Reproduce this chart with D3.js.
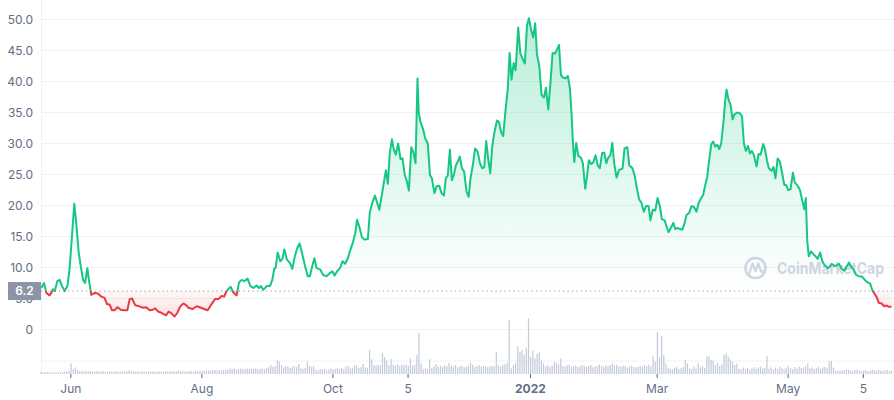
<!DOCTYPE html>
<html><head><meta charset="utf-8">
<script src="https://cdn.jsdelivr.net/npm/d3@7"></script>
<style>body{margin:0;background:#fff;} svg{display:block;font-family:Inter,"Noto Sans",sans-serif;}</style>
</head><body><svg id="c" width="894" height="400"></svg>
<script>
// ---- data ----
const startDate = Date.UTC(2021, 4, 18, 8);   // first point
const endDate = Date.UTC(2022, 5, 19, 1);
const baselinePrice = 6.2;
// [days since start, price]
const priceReadings = [
[0.2,6.7],[1.4,7.5],[2.5,5.9],[4.0,5.5],[4.8,5.9],[5.6,6.5],[6.4,6.2],[7.6,7.8],[8.7,8.0],[9.8,7.0],[11.0,6.2],[12.3,7.0],[13.3,9.7],[14.4,15.0],[15.5,20.3],[16.4,17.2],[17.5,12.6],[18.5,10.2],[19.6,8.0],[20.5,7.5],[21.6,9.9],[22.3,8.0],[23.4,5.6],[25.0,5.9],[26.5,5.8],[28.1,5.3],[29.6,5.1],[30.7,4.1],[32.0,4.0],[33.1,3.1],[34.3,3.1],[35.5,3.6],[37.1,3.2],[38.6,3.1],[40.2,3.1],[41.3,4.9],[42.4,5.0],[43.9,3.9],[45.2,3.8],[46.7,3.6],[48.0,3.5],[49.0,3.6],[50.6,3.1],[52.1,3.2],[53.2,3.4],[54.5,2.9],[56.0,2.7],[57.6,2.4],[58.3,2.3],[59.4,2.9],[60.7,2.6],[62.2,2.1],[63.5,2.7],[65.0,3.8],[66.4,4.2],[67.7,3.9],
[68.6,3.5],[70.5,3.3],[72.5,3.75],[74.5,3.5],[76.0,3.3],[77.6,3.1],[79.1,3.9],[81.0,4.9],[82.6,4.9],[84.1,5.4],[85.3,5.3],[86.4,6.2],[88.3,6.9],[89.5,6.0],[91.1,5.5],[92.2,7.6],[93.4,8.0],[94.7,7.8],[96.2,8.2],[97.5,7.0],[98.9,6.7],[100.4,7.1],[101.5,6.7],[102.4,7.0],[103.5,6.4],[105.1,7.0],[106.6,7.0],[107.7,8.0],[108.6,9.8],[109.2,9.9],[110.2,12.4],[111.4,11.0],[112.4,11.4],[113.3,12.9],[114.5,11.3],[115.9,10.7],[117.0,9.8],[118.2,11.8],[119.3,13.1],[120.4,13.9],[121.7,12.1],[122.9,10.3],[124.2,8.6],[125.2,8.6],[126.3,10.2],[127.3,11.5],[128.3,9.9],[129.9,9.7],[131.4,8.8],[133.0,8.6],
[134.5,9.1],[135.7,9.4],[136.7,8.7],[137.9,9.4],[139.2,9.9],[140.4,11.0],[141.6,10.6],[142.9,11.5],[143.8,12.6],[145.1,13.9],[146.3,15.5],[147.2,17.7],[148.2,16.6],[149.4,14.9],[150.6,14.5],[152.2,14.6],[153.1,18.9],[154.4,20.6],[155.5,21.6],[156.5,20.5],[157.5,19.3],[158.7,21.7],[159.6,23.6],[160.6,25.7],[161.5,23.5],[162.4,28.4],[163.4,30.7],[164.3,29.0],[165.2,28.2],[166.3,30.0],[167.4,27.5],[168.3,27.6],[169.4,24.9],[170.2,24.1],[171.3,22.4],[172.4,29.4],[173.3,28.7],[174.4,26.8],[175.3,40.5],[175.9,34.9],[176.7,33.5],[178.0,32.2],[178.9,30.8],[180.1,30.0],[181.1,24.9],[182.0,24.4],[183.2,22.0],[184.2,23.1],[185.4,23.2],[186.5,22.0],[187.6,21.6],[188.5,24.4],[189.4,24.8],[190.4,29.0],[191.3,24.1],[192.2,24.9],[193.2,26.5],[194.1,27.1],[195.0,27.9],[196.0,26.0],[197.0,25.5],[198.1,22.3],[199.1,21.4],[200.0,24.4],[201.2,26.8],
[202.1,29.2],[203.3,28.7],[204.4,26.8],[205.5,26.0],[206.4,26.2],[207.3,30.4],[208.3,27.3],[209.2,25.2],[210.1,29.5],[211.0,31.6],[212.3,33.7],[213.2,33.5],[214.2,31.9],[215.2,31.2],[216.3,35.4],[217.3,38.6],[218.2,44.6],[219.1,40.3],[220.1,43.0],[221.0,41.8],[222.2,48.7],[223.2,44.5],[224.2,43.7],[225.3,42.9],[226.3,49.1],[227.2,50.2],[228.1,48.5],[229.2,47.1],[230.1,49.4],[230.9,44.5],[232.0,42.5],[233.1,37.8],[234.2,37.4],[235.1,39.0],[236.2,35.5],[237.3,40.2],[238.2,44.6],[239.3,44.5],[240.2,45.1],[241.2,45.9],[242.1,41.0],[243.2,40.6],[244.3,40.5],[245.3,40.9],[246.3,38.9],[247.1,34.3],[247.7,30.0],[248.3,27.0],[249.2,30.1],[250.2,28.0],[251.4,27.7],[252.3,26.8],[253.4,22.7],[254.2,24.6],[255.1,27.3],[256.1,26.7],[257.1,26.9],[258.2,28.1],[259.2,26.5],[260.2,26.0],[261.3,28.5],[262.3,28.5],[263.2,26.8],[264.1,27.7],[265.1,28.1],[266.0,30.1],[266.9,26.8],[268.0,24.5],[269.1,25.7],
[270.8,26.0],[271.7,29.2],[273.0,29.4],[273.9,26.5],[275.4,26.0],[276.5,24.7],[277.6,22.5],[278.5,21.0],[279.6,20.4],[280.7,19.0],[281.7,19.9],[282.9,19.9],[283.8,17.6],[284.8,19.3],[286.0,19.2],[287.1,21.2],[288.2,19.8],[289.1,17.8],[290.4,17.6],[291.3,16.6],[292.2,15.7],[293.3,16.4],[294.4,17.2],[295.3,16.2],[296.4,16.4],[297.5,16.2],[298.6,16.1],[299.7,17.2],[300.6,18.5],[301.8,18.8],[302.9,19.9],[304.0,19.8],[305.2,19.0],[306.2,20.4],[307.4,21.2],[308.3,21.7],[309.3,23.3],[310.2,24.6],[311.1,27.3],[312.1,29.9],[313.0,30.3],[313.9,29.5],[314.9,29.8],[315.8,29.1],[316.7,30.0],[317.7,33.2],[318.6,37.0],[319.2,38.7],[320.1,37.1],[321.1,36.2],[322.0,33.9],[322.9,34.7],[324.2,35.0],[325.4,34.9],[326.4,34.4],[327.3,30.0],[328.2,28.8],[329.2,29.6],[330.1,28.4],[331.0,28.8],[331.9,28.2],[333.2,26.3],[334.1,28.3],[335.0,28.2],[336.3,29.9],
[337.1,29.1],[338.0,27.3],[338.9,26.0],[340.2,25.6],[341.1,26.2],[342.0,24.4],[343.0,27.6],[344.0,27.1],[345.1,25.2],[346.1,23.3],[347.0,23.3],[347.9,22.5],[349.0,22.6],[350.1,25.3],[351.0,23.7],[352.3,23.2],[353.4,22.5],[354.4,20.9],[355.4,19.4],[356.1,21.2],[356.8,14.2],[357.5,11.8],[358.5,12.6],[359.7,12.1],[360.7,11.8],[361.6,11.4],[362.8,12.4],[363.8,11.0],[365.0,10.3],[366.2,9.9],[367.2,10.1],[368.1,10.6],[369.3,10.3],[370.4,10.3],[371.5,10.6],[372.8,9.8],[374.0,9.5],[375.1,10.1],[376.2,10.8],[377.1,10.2],[378.3,9.7],[379.6,8.8],[380.8,8.6],[382.4,8.5],[383.6,8.0],[384.9,7.6],[386.1,7.4],[387.0,6.4],[388.0,5.8],[389.0,5.3],[390.1,4.3],[391.4,4.2],[392.6,3.75],[393.7,3.86],[394.8,3.65],[396.0,3.65]
];
// daily volume, one bar per day from start (arbitrary units)
const dailyVolume = [
1.5,1.2,1.4,1.3,1.6,1.2,1.4,1.5,1.3,1.2,1.6,1.4,1.8,
2.3,8.2,3.6,5.1,3.1,
2.3,2.2,2.0,2.3,2.1,2.2,1.9,2.0,2.2,1.8,2.0,2.1,1.8,1.9,2.0,1.8,1.7,1.9,2.0,1.8,1.9,1.7,2.0,
3.1,2.2,1.8,1.9,2.0,1.7,1.8,1.9,1.7,1.8,2.0,1.9,1.6,1.8,1.9,1.7,2.0,2.1,1.8,1.9,2.0,2.2,2.0,
3.1,2.0,2.1,1.9,2.0,2.2,2.1,2.0,2.3,2.2,
2.4,2.6,2.3,2.5,2.8,2.6,2.9,3.1,2.7,3.0,2.8,3.1,2.9,3.3,
4.2,3.8,4.4,3.6,3.9,4.3,3.7,4.0,4.4,3.8,4.1,3.9,4.3,3.6,4.0,4.2,3.8,4.5,
5.2,6.9,5.5,6.0,10.8,9.5,6.9,5.0,5.8,6.2,4.6,5.5,6.0,5.2,7.7,4.4,4.0,4.6,9.5,6.2,5.5,6.0,
3.2,2.6,3.8,3.5,4.0,2.8,3.6,4.2,3.4,3.9,4.4,
4.0,4.8,3.8,5.6,6.2,4.4,5.0,6.9,6.5,4.6,5.3,7.7,5.0,4.8,
18.5,11.3,6.9,6.5,7.2,6.6,15.9,12.8,10.3,6.8,11.5,
7.0,6.4,7.7,6.2,7.3,6.6,7.5,6.3,
12.0,6.2,7.0,14.6,31.5,8.2,3.6,4.4,4.0,11.3,4.6,6.0,7.7,5.5,
6.2,5.4,6.8,5.8,8.7,6.5,5.6,6.9,5.2,5.8,6.3,5.1,5.5,6.6,8.7,7.2,5.4,6.0,6.8,5.6,5.9,6.4,5.3,6.0,
6.2,5.8,16.9,6.5,5.6,6.8,7.7,8.7,41.5,4.4,6.9,8.5,21.5,16.9,18.5,14.6,20.0,42.8,13.0,18.0,12.0,15.4,17.2,10.3,8.2,
5.8,6.9,5.4,6.4,9.5,8.7,7.7,12.0,
6.2,5.6,6.8,7.2,5.4,6.0,6.6,5.2,5.8,7.0,6.4,5.5,6.1,6.9,5.3,5.7,6.3,7.4,6.0,5.5,6.7,6.2,7.0,8.2,6.8,7.1,6.0,5.6,6.4,5.9,5.2,5.8,6.6,5.4,5.1,5.7,6.2,5.5,6.9,6.1,7.2,5.8,
13.8,9.5,32.3,13.0,29.2,14.6,8.2,
5.0,4.2,3.6,4.8,5.6,3.9,4.5,5.2,10.8,8.2,4.4,3.8,5.6,4.2,8.7,5.0,6.2,4.6,
13.3,13.8,11.0,10.3,6.8,8.7,6.2,7.5,14.6,15.9,13.3,11.3,9.5,6.9,8.2,
4.2,3.5,5.0,3.8,4.6,3.2,4.4,5.3,3.9,4.8,5.6,4.1,4.7,13.8,
4.0,5.2,3.4,4.8,3.6,5.5,4.4,3.8,5.0,6.2,4.6,3.9,5.4,4.2,5.8,4.6,5.1,6.0,8.2,
4.4,5.0,3.8,4.6,5.6,4.0,4.9,5.3,4.4,10.0,10.0,5.0,
2.5,2.2,2.8,2.4,3.0,3.4,3.2,2.6,2.4,2.9,3.3,2.7,2.2,2.6,3.0,2.4,2.1,3.2,2.8,2.5,3.4,2.6,2.3,2.9,3.1,2.4,2.6
];
const priceTicks = [0,5,10,15,20,25,30,35,40,45,50];
const xTickDates = ["2021-06-01","2021-08-01","2021-10-01","2021-11-05","2022-01-01","2022-03-01","2022-05-01","2022-06-05"];
const xTickLabels = ["Jun","Aug","Oct","5","2022","Mar","May","5"];

// ---- drawing ----
const DAY = 86400000;
const svg = d3.select("#c");
const left = 41, right = 893;
const x = d3.scaleUtc().domain([new Date(startDate), new Date(endDate)]).range([left, right]);
const y = d3.scaleLinear().domain([0, 50]).range([329.5, 19.5]);
const vy = d3.scaleLinear().domain([0, 10]).range([374, 361]);
const GREEN = "#16c784", RED = "#ea3943", GRID = "#eff2f5", TXT = "#616e85";

const pts = priceReadings.map(([d, v]) => ({date: new Date(startDate + d * DAY), v}));
const yb = y(baselinePrice);

const defs = svg.append("defs");
const gg = defs.append("linearGradient").attr("id","gG").attr("gradientUnits","userSpaceOnUse")
  .attr("x1",0).attr("x2",0).attr("y1",y(50)).attr("y2",yb);
gg.append("stop").attr("offset",0).attr("stop-color",GREEN).attr("stop-opacity",0.3);
gg.append("stop").attr("offset",1).attr("stop-color",GREEN).attr("stop-opacity",0.0);
const rg = defs.append("linearGradient").attr("id","rG").attr("gradientUnits","userSpaceOnUse")
  .attr("x1",0).attr("x2",0).attr("y1",yb).attr("y2",y(1.5));
rg.append("stop").attr("offset",0).attr("stop-color",RED).attr("stop-opacity",0.04);
rg.append("stop").attr("offset",1).attr("stop-color",RED).attr("stop-opacity",0.16);
defs.append("clipPath").attr("id","cUp").append("rect").attr("x",0).attr("y",0).attr("width",894).attr("height",yb);
defs.append("clipPath").attr("id","cDn").append("rect").attr("x",0).attr("y",yb).attr("width",894).attr("height",340-yb);

// grid
svg.append("g").selectAll("line").data(priceTicks).join("line")
  .attr("x1", left).attr("x2", 894).attr("y1", d => y(d)).attr("y2", d => y(d))
  .attr("stroke", GRID).attr("stroke-width", 1);
svg.append("line").attr("x1",left).attr("x2",894).attr("y1",vy(10)).attr("y2",vy(10)).attr("stroke",GRID);
svg.append("line").attr("x1",left+0.5).attr("x2",left+0.5).attr("y1",0).attr("y2",374).attr("stroke",GRID);

// volume
svg.append("g").selectAll("rect").data(dailyVolume).join("rect")
  .attr("x", (d,i) => x(new Date(startDate + i*DAY)) - 0.6)
  .attr("width", 1.2)
  .attr("y", d => vy(d)).attr("height", d => vy(0) - vy(d))
  .attr("fill", "#c3cad9");

// areas
const area = d3.area().x(d => x(d.date)).y0(yb).y1(d => y(d.v));
const line = d3.line().x(d => x(d.date)).y(d => y(d.v));
svg.append("path").datum(pts).attr("d", area).attr("fill","url(#gG)").attr("clip-path","url(#cUp)");
svg.append("path").datum(pts).attr("d", area).attr("fill","url(#rG)").attr("clip-path","url(#cDn)");

// watermark
const wm = svg.append("g").attr("fill","none").attr("stroke","#cfd5e1");
wm.append("circle").attr("cx",755.5).attr("cy",268).attr("r",10).attr("stroke-width",2.6);
wm.append("path").attr("d","M749.5,273 L752.5,263.5 L755.5,271 L758.5,263.5 L760.5,270.5 Q761.5,273 764,270.5")
  .attr("stroke-width",2.2).attr("stroke-linejoin","round").attr("stroke-linecap","round");
svg.append("text").attr("x",777).attr("y",274).attr("font-size",16.5).attr("font-weight",700)
  .attr("fill","#cfd5e1").attr("textLength",107).attr("lengthAdjust","spacingAndGlyphs").text("CoinMarketCap");

// baseline dotted
svg.append("line").attr("x1",left).attr("x2",894).attr("y1",yb).attr("y2",yb)
  .attr("stroke","#8a93a6").attr("stroke-width",1).attr("stroke-dasharray","1.2 3.3");

// price line
svg.append("path").datum(pts).attr("d", line).attr("fill","none").attr("stroke",GREEN)
  .attr("stroke-width",2).attr("stroke-linejoin","round").attr("clip-path","url(#cUp)");
svg.append("path").datum(pts).attr("d", line).attr("fill","none").attr("stroke",RED)
  .attr("stroke-width",2).attr("stroke-linejoin","round").attr("clip-path","url(#cDn)");

// y axis
const yAxis = d3.axisLeft(y).tickValues(priceTicks).tickSize(0).tickPadding(8)
  .tickFormat(d => d === 0 ? "0" : d.toFixed(1));
const yg = svg.append("g").attr("transform",`translate(${left},0)`).call(yAxis);
yg.select(".domain").remove();
yg.selectAll("text").attr("fill",TXT).attr("font-size",12).attr("font-family","Inter, sans-serif");

// x axis
const xAxis = d3.axisBottom(x).tickValues(xTickDates.map(s => new Date(s + "T00:00:00Z")))
  .tickFormat((d,i) => xTickLabels[i]).tickSize(4).tickPadding(6);
const xg = svg.append("g").attr("transform","translate(0,374)").call(xAxis);
xg.select(".domain").remove();
xg.selectAll(".tick line").attr("stroke","#58667e");
xg.selectAll("text").attr("fill",TXT).attr("font-size",12).attr("font-family","Inter, sans-serif")
  .attr("font-weight",(d,i) => xTickLabels[i] === "2022" ? 700 : 400);

// baseline label
svg.append("rect").attr("x",8).attr("y",yb-9).attr("width",left-8).attr("height",18).attr("fill","#8d94a6");
svg.append("text").attr("x",24.5).attr("y",yb).attr("dy","0.35em").attr("text-anchor","middle")
  .attr("fill","#fff").attr("font-size",12).attr("font-weight",600).text(baselinePrice.toFixed(1));
</script></body></html>
